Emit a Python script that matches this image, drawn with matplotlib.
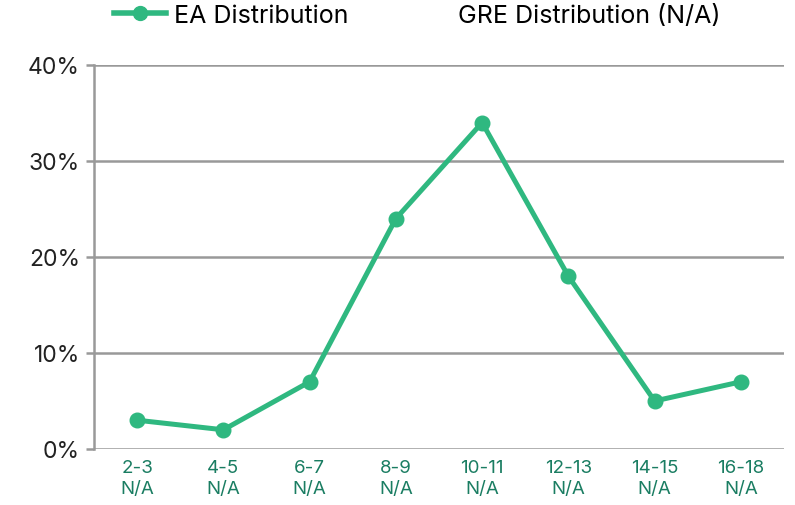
import matplotlib
matplotlib.use("Agg")
import matplotlib.pyplot as plt
from matplotlib.lines import Line2D
from matplotlib.ticker import FuncFormatter

categories = ["2-3", "4-5", "6-7", "8-9", "10-11", "12-13", "14-15", "16-18"]
gre_labels = ["N/A"] * 8
ea_values = [3, 2, 7, 24, 34, 18, 5, 7]
y_ticks = [0, 10, 20, 30, 40]

plt.rcParams['font.family'] = ['Inter', 'DejaVu Sans']

fig = plt.figure(figsize=(7.95, 5.06), dpi=100)
ax = fig.add_axes([94/795, 56/506, 690/795, 384/506])

green = "#2fb880"
grid_c = "#999999"
x = list(range(len(categories)))
line, = ax.plot(x, ea_values, color=green, lw=3.6, marker='o', ms=10.5, zorder=3, clip_on=False)

ax.set_xlim(-0.5, len(categories) - 0.5)
ax.set_ylim(0, 40)
ax.set_yticks(y_ticks)
ax.yaxis.set_major_formatter(FuncFormatter(lambda v, p: f"{int(v)}%"))
ax.grid(axis='y', color=grid_c, lw=1.8)
ax.set_axisbelow(True)
for s in ['top', 'right', 'bottom']:
    ax.spines[s].set_visible(False)
ax.spines['left'].set_color(grid_c)
ax.spines['left'].set_linewidth(1.8)
ax.tick_params(axis='y', length=6, width=1.8, color=grid_c, labelsize=16.5, labelcolor='#222222', pad=4)
ax.set_xticks(x)
ax.set_xticklabels([f"{c}\n{g}" for c, g in zip(categories, gre_labels)], color="#1a7d62", fontsize=13.5, linespacing=1.3)
ax.tick_params(axis='x', length=0, pad=7)

handles = [Line2D([], [], color=green, lw=4, marker='o', ms=10),
           Line2D([], [], color='none')]
fig.legend(handles, ["EA Distribution", "GRE Distribution (N/A)"], loc='upper left',
           bbox_to_anchor=(91/795, 1.035), ncol=2, frameon=False, fontsize=18,
           handlelength=2.1, handletextpad=0.3, columnspacing=2.0)

fig.savefig("out.png", dpi=100)
